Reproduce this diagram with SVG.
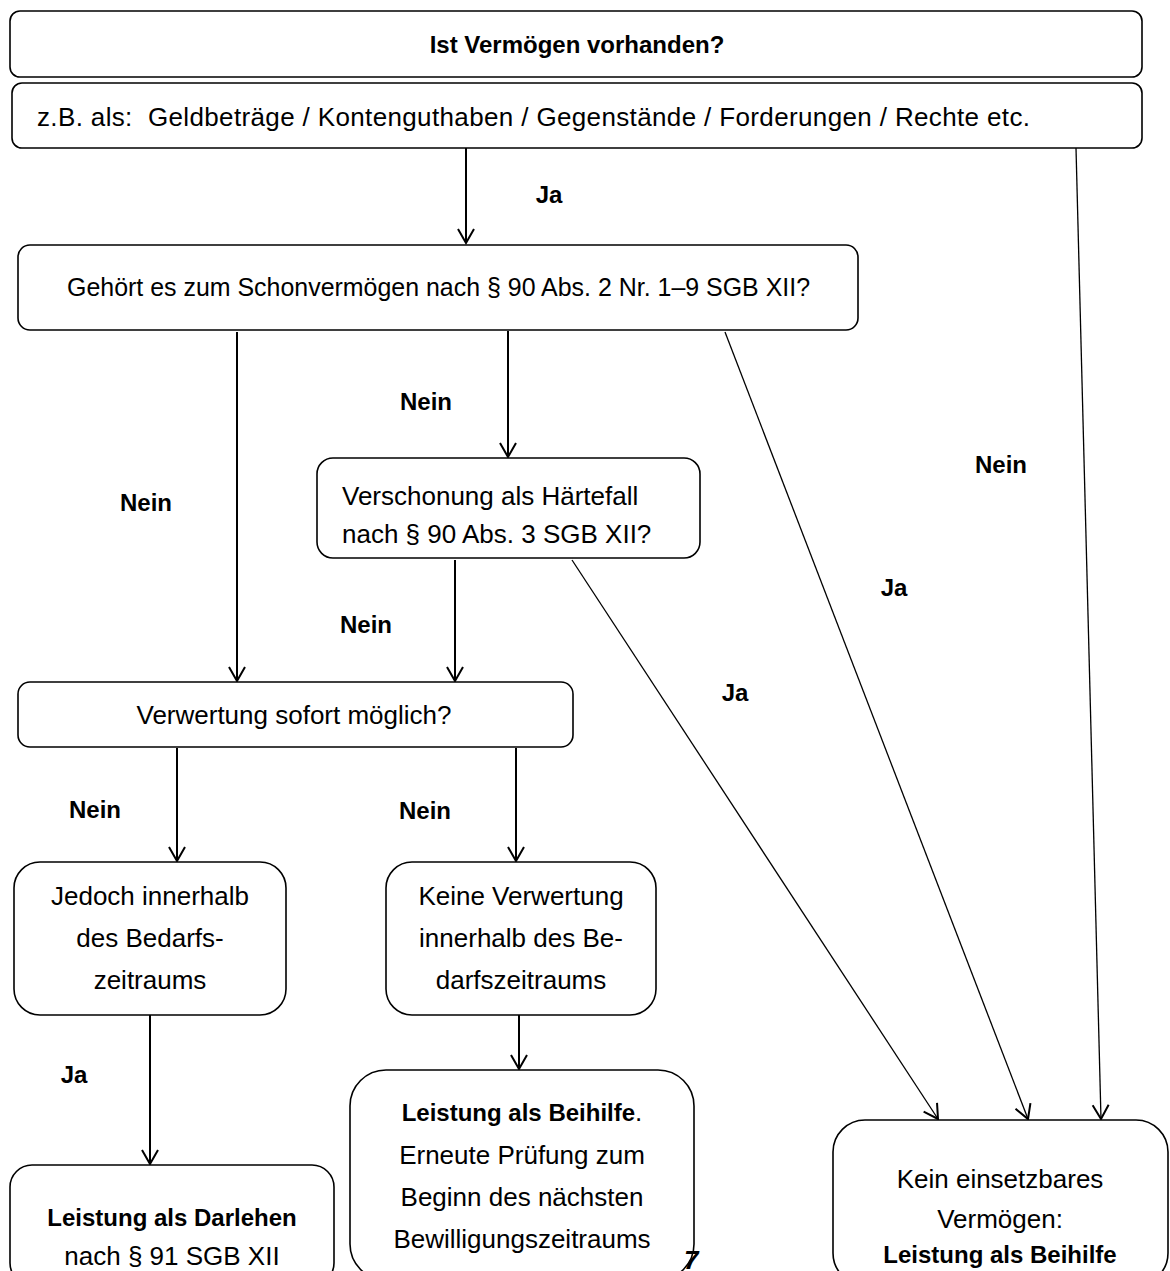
<svg xmlns="http://www.w3.org/2000/svg" width="1170" height="1271" viewBox="0 0 1170 1271">
<style>
.box{fill:#fff;stroke:#000;stroke-width:1.6}
.t{font-family:"Liberation Sans",Arial,sans-serif;font-size:26px;fill:#000}
.b{font-weight:bold;font-size:24px}
.c{text-anchor:middle}
.lbl{font-family:"Liberation Sans",Arial,sans-serif;font-size:24px;font-weight:bold;fill:#000}
.v{stroke:#000;stroke-width:2;fill:none}
.d{stroke:#000;stroke-width:1.3;fill:none}
</style>
<defs>
<marker id="ah" markerUnits="userSpaceOnUse" markerWidth="20" markerHeight="20" viewBox="0 0 20 20" refX="16" refY="10" orient="auto">
<path d="M2,2 L16,10 L2,18" fill="none" stroke="#000" stroke-width="2"/>
</marker>
</defs>
<rect width="1170" height="1271" fill="#fff"/>
<g id="connectors">
<line class="v" x1="466" y1="148" x2="466" y2="243" marker-end="url(#ah)"/>
<line class="d" x1="1076" y1="148" x2="1101" y2="1119" marker-end="url(#ah)"/>
<line class="v" x1="237" y1="332" x2="237" y2="681" marker-end="url(#ah)"/>
<line class="v" x1="508" y1="331" x2="508" y2="457" marker-end="url(#ah)"/>
<line class="d" x1="725" y1="332" x2="1028" y2="1119" marker-end="url(#ah)"/>
<line class="v" x1="455" y1="560" x2="455" y2="681" marker-end="url(#ah)"/>
<line class="d" x1="572" y1="560" x2="938" y2="1119" marker-end="url(#ah)"/>
<line class="v" x1="177" y1="748" x2="177" y2="861" marker-end="url(#ah)"/>
<line class="v" x1="516" y1="748" x2="516" y2="861" marker-end="url(#ah)"/>
<line class="v" x1="150" y1="1015" x2="150" y2="1164" marker-end="url(#ah)"/>
<line class="v" x1="519" y1="1015" x2="519" y2="1069" marker-end="url(#ah)"/>
<text class="lbl" x="549" y="203" text-anchor="middle">Ja</text>
<text class="lbl" x="426" y="410" text-anchor="middle">Nein</text>
<text class="lbl" x="1001" y="473" text-anchor="middle">Nein</text>
<text class="lbl" x="146" y="511" text-anchor="middle">Nein</text>
<text class="lbl" x="894" y="596" text-anchor="middle">Ja</text>
<text class="lbl" x="366" y="633" text-anchor="middle">Nein</text>
<text class="lbl" x="735" y="701" text-anchor="middle">Ja</text>
<text class="lbl" x="95" y="818" text-anchor="middle">Nein</text>
<text class="lbl" x="425" y="819" text-anchor="middle">Nein</text>
<text class="lbl" x="74" y="1083" text-anchor="middle">Ja</text>
</g>
<g id="n1">
<rect class="box" x="10" y="11" width="1132" height="66" rx="10"/>
<text class="t b c" x="577" y="53">Ist Vermögen vorhanden?</text>
</g>
<g id="n2">
<rect class="box" x="12" y="83" width="1130" height="65" rx="10"/>
<text class="t" x="37" y="126" textLength="993" xml:space="preserve">z.B. als:  Geldbeträge / Kontenguthaben / Gegenstände / Forderungen / Rechte etc.</text>
</g>
<g id="n3">
<rect class="box" x="18" y="245" width="840" height="85" rx="12"/>
<text class="t" x="67" y="296" textLength="743" lengthAdjust="spacingAndGlyphs">Gehört es zum Schonvermögen nach § 90 Abs. 2 Nr. 1–9 SGB XII?</text>
</g>
<g id="n4">
<rect class="box" x="317" y="458" width="383" height="100" rx="16"/>
<text class="t" x="342" y="505">Verschonung als Härtefall</text>
<text class="t" x="342" y="543">nach § 90 Abs. 3 SGB XII?</text>
</g>
<g id="n5">
<rect class="box" x="18" y="682" width="555" height="65" rx="12"/>
<text class="t c" x="294" y="724">Verwertung sofort möglich?</text>
</g>
<g id="n6">
<rect class="box" x="14" y="862" width="272" height="153" rx="26"/>
<text class="t c" x="150" y="905">Jedoch innerhalb</text>
<text class="t c" x="150" y="947">des Bedarfs-</text>
<text class="t c" x="150" y="989">zeitraums</text>
</g>
<g id="n7">
<rect class="box" x="386" y="862" width="270" height="153" rx="26"/>
<text class="t c" x="521" y="905">Keine Verwertung</text>
<text class="t c" x="521" y="947">innerhalb des Be-</text>
<text class="t c" x="521" y="989">darfszeitraums</text>
</g>
<g id="n8">
<rect class="box" x="10" y="1165" width="324" height="120" rx="22"/>
<text class="t b c" x="172" y="1226">Leistung als Darlehen</text>
<text class="t c" x="172" y="1265">nach § 91 SGB XII</text>
</g>
<g id="n9">
<rect class="box" x="350" y="1070" width="344" height="210" rx="36"/>
<text class="t c" x="522" y="1121"><tspan font-weight="bold" font-size="24">Leistung als Beihilfe</tspan>.</text>
<text class="t c" x="522" y="1164">Erneute Prüfung zum</text>
<text class="t c" x="522" y="1206">Beginn des nächsten</text>
<text class="t c" x="522" y="1248">Bewilligungszeitraums</text>
</g>
<g id="n10">
<rect class="box" x="833" y="1120" width="335" height="165" rx="32"/>
<text class="t c" x="1000" y="1188">Kein einsetzbares</text>
<text class="t c" x="1000" y="1228">Vermögen:</text>
<text class="t b c" x="1000" y="1263">Leistung als Beihilfe</text>
</g>
<text x="684" y="1269" font-family="'Liberation Sans',Arial,sans-serif" font-size="26" font-weight="bold" font-style="italic">7</text>
</svg>
